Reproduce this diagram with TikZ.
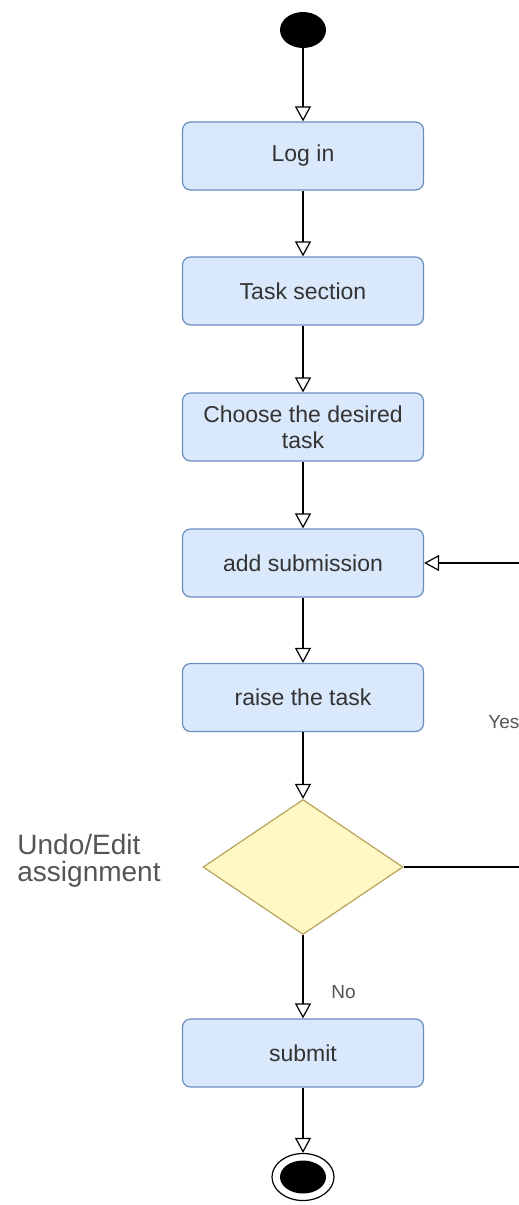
\documentclass[tikz,border=0pt]{standalone}
\usepackage{fontspec}
\setmainfont{Liberation Sans}
\usetikzlibrary{arrows.meta,shapes.geometric,positioning}

\definecolor{actfill}{HTML}{DAE8FC}
\definecolor{actline}{HTML}{6C8EBF}
\definecolor{decfill}{HTML}{FFF8C4}
\definecolor{decline}{HTML}{B9A35A}
\definecolor{acttext}{HTML}{333333}
\definecolor{guardtext}{HTML}{555555}

\tikzset{
  activity/.style={rectangle, rounded corners=4pt, draw=actline, fill=actfill, line width=0.6pt,
    minimum width=120.5pt, minimum height=34pt, align=center,
    text=acttext, font=\fontsize{11.5}{13}\selectfont},
  decision/.style={diamond, draw=decline, fill=decfill, line width=0.6pt,
    minimum width=100pt, minimum height=67.5pt, inner sep=0pt},
  guard/.style={text=guardtext, font=\fontsize{9.5}{11}\selectfont, inner sep=0pt},
  flow/.style={line width=0.6pt, -{Triangle[open, width=8pt, length=7.5pt]}},
}

\begin{document}
\begin{tikzpicture}[x=0.5pt, y=-0.5pt]
        \clip (0, 0) rectangle (519, 1205);
        \fill[white] (0, 0) rectangle (519, 1205);

        \node[ellipse, fill=black, minimum width=23pt, minimum height=18pt] (start) at (303, 30) {};
        \node[activity] (login) at (303, 156) {Log in};
        \node[activity] (tasksec) at (303, 291) {Task section};
        \node[activity] (choose) at (303, 427) {Choose the desired\\task};
        \node[activity] (addsub) at (303, 563) {add submission};
        \node[activity] (raise) at (303, 697.5) {raise the task};
        \node[decision] (undo) at (303, 867) {};
        \node[activity] (submit) at (303, 1053) {submit};
        \node[ellipse, draw, line width=0.6pt, minimum width=31pt, minimum height=23.5pt] (finish) at (303, 1177) {};
        \node[ellipse, fill=black, minimum width=23pt, minimum height=16.5pt] (finishdot) at (finish) {};

        \node[anchor=west, align=left, text=guardtext, inner sep=0pt,
              font=\fontsize{14}{13.5}\selectfont] (undolabel) at (17, 861) {Undo/Edit\\assignment};
        \node[guard, anchor=west] (yes) at (488, 722) {Yes};
        \node[guard, anchor=west] (no) at (331, 992) {No};

        \coordinate (loopright) at (540, 867);

        \draw[flow] (start) -- (login);
        \draw[flow] (login) -- (tasksec);
        \draw[flow] (tasksec) -- (choose);
        \draw[flow] (choose) -- (addsub);
        \draw[flow] (addsub) -- (raise);
        \draw[flow] (raise) -- (undo);
        \draw[flow] (undo) -- (submit);
        \draw[flow] (submit) -- (finish);
        \draw[flow] (undo.east) -- (loopright) |- (addsub.east);
\end{tikzpicture}
\end{document}
